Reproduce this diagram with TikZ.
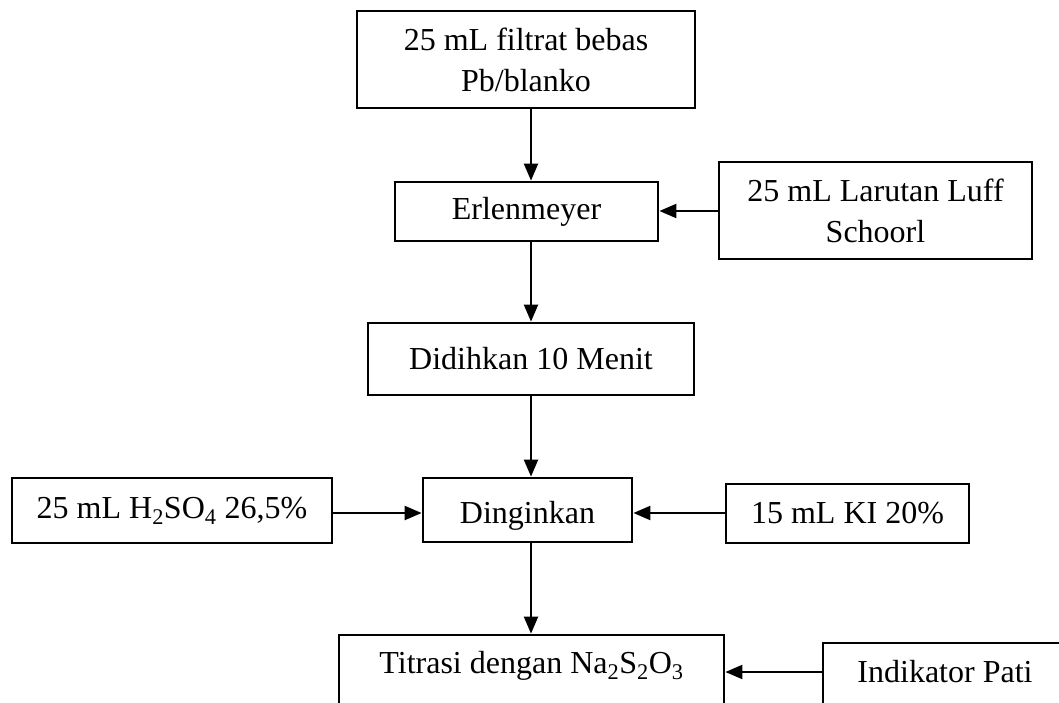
\documentclass[tikz,border=0pt]{standalone}
\usepackage{fontspec}
\setmainfont{Liberation Serif}
\usetikzlibrary{arrows.meta}
\tikzset{
  box/.style={draw, line width=2.8pt, inner sep=0pt, align=center,
              font=\fontsize{32}{41}\selectfont},
  flow/.style={line width=2.2pt, -{Triangle[length=17pt,width=14pt]}},
}
\begin{document}
\begin{tikzpicture}[x=1pt,y=-1pt]
\fill[white] (0,0) rectangle (1059,703);
\useasboundingbox (0,0) rectangle (1059,703);
\clip (0,0) rectangle (1059,703);
\coordinate (ax) at (531,0);
\coordinate (ay1) at (0,211);
\coordinate (ay2) at (0,513);
\coordinate (ay3) at (0,672);

\node[box, minimum width=338pt, minimum height=97pt] (b1) at (526,59.5) {25 mL filtrat bebas\\Pb/blanko};
\node[box, minimum width=263pt, minimum height=59pt] (erl) at (526.5,211.5) {Erlenmeyer};
\node[box, minimum width=313pt, minimum height=97pt] (luff) at (875.5,210.5) {25 mL Larutan Luff\\Schoorl};
\node[box, minimum width=326pt, minimum height=72pt] (did) at (531,359) {Didihkan 10 Menit};
\node[box, minimum width=209pt, minimum height=64pt, text height=30pt, text depth=4pt] (ding) at (527.5,510) {Dinginkan};
\node[box, minimum width=320pt, minimum height=65pt] (h2) at (172,510.5) {25 mL H\textsubscript{2}SO\textsubscript{4} 26,5\%};
\node[box, minimum width=243pt, minimum height=59pt] (ki) at (847.5,513.5) {15 mL KI 20\%};
\node[box, minimum width=385pt, minimum height=120pt, text height=22pt, text depth=66pt] (tit) at (531.5,695) {Titrasi dengan Na\textsubscript{2}S\textsubscript{2}O\textsubscript{3}};
\node[box, minimum width=244pt, minimum height=120pt, text height=22pt, text depth=64pt] (ind) at (945,703) {Indikator Pati};

\draw[flow] (b1.south -| ax) -- (erl.north -| ax);
\draw[flow] (luff.west |- ay1) -- (erl.east |- ay1);
\draw[flow] (erl.south -| ax) -- (did.north -| ax);
\draw[flow] (did.south -| ax) -- (ding.north -| ax);
\draw[flow] (h2.east |- ay2) -- (ding.west |- ay2);
\draw[flow] (ki.west |- ay2) -- (ding.east |- ay2);
\draw[flow] (ding.south -| ax) -- (tit.north -| ax);
\draw[flow] (ind.west |- ay3) -- (tit.east |- ay3);
\end{tikzpicture}
\end{document}
